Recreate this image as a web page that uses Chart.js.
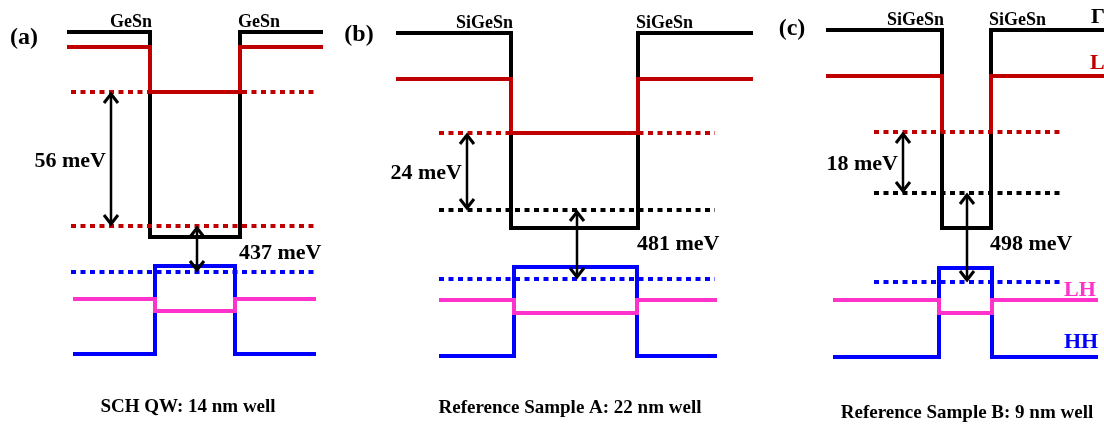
<!DOCTYPE html>
<html>
<head>
<meta charset="utf-8">
<script src="https://cdn.jsdelivr.net/npm/chart.js@4.4.1/dist/chart.umd.min.js"></script>
<style>
  html, body { margin: 0; padding: 0; background: #fff; }
  #wrap { width: 1104px; height: 426px; }
</style>
</head>
<body>
<div id="wrap"><canvas id="bands" width="1104" height="426"></canvas></div>
<script>
// three band diagrams, x = position across the structure, y = energy (arb. units)
const panelIds = ['(a)', '(b)', '(c)'];
const barrierNames = ['GeSn', 'SiGeSn', 'SiGeSn'];
const panelTitles = ['SCH QW: 14 nm well', 'Reference Sample A: 22 nm well', 'Reference Sample B: 9 nm well'];

// conduction band extents
const cbStart = [67, 396, 826];
const cbEnd = [323, 753, 1104];
const wellLeft = [150, 511, 942];
const wellRight = [240, 638, 991];
// valence band extents
const vbStart = [73, 439, 833];
const vbEnd = [316, 717, 1098];
const vbWellLeft = [155, 514, 939];
const vbWellRight = [235, 637, 992];
// confined level extents
const levelStart = [71, 439, 874];
const levelEnd = [318, 715, 1060];

// band edges
const gammaBarrier = [394, 393, 396];
const gammaWell = [189, 198, 198];
const lBarrier = [379, 347, 350];
const lWell = [334, 293, 294];
const lWellSolid = [true, true, false];
const hhBarrier = [72, 70, 69];
const hhWell = [160, 159, 158];
const lhBarrier = [127, 126, 126];
const lhWell = [115, 113, 113];

// confined levels
const upperLevel = [334, 293, 294];
const lowerLevel = [200, 216, 233];
const holeLevel = [154, 147, 144];

const splitLabels = ['56 meV', '24 meV', '18 meV'];
const gapLabels = ['437 meV', '481 meV', '498 meV'];
const bandLabels = ['Γ', 'L', 'LH', 'HH'];

// styling / text placement
const RED = '#c00000', BLUE = '#0000ff', PINK = '#ff33cc', BLACK = '#000000';
const lowerLevelColor = [RED, BLACK, BLACK];
const splitArrowX = [111, 467, 903];
const gapArrowX = [197, 577, 967];
const letterPos = [[24, 38], [359, 35], [792, 29]];
const titlePos = [[188, 407], [570, 408], [967, 413]];
const bandLabelPos = [[1091, 409, BLACK], [1090, 363, RED], [1064, 136, PINK], [1064, 84, BLUE]];
const FONT = '"Liberation Serif", "Times New Roman", serif';

function step(x0, x1, xa, xb, barrier, well, breakBottom) {
  const pts = [
    {x: x0, y: barrier}, {x: xa, y: barrier}, {x: xa, y: well}
  ];
  if (breakBottom) pts.push({x: (xa + xb) / 2, y: null});
  pts.push({x: xb, y: well}, {x: xb, y: barrier}, {x: x1, y: barrier});
  return pts;
}

const datasets = [];
function add(data, color, dashed) {
  datasets.push({
    data: data,
    showLine: true,
    borderColor: color,
    borderWidth: 4,
    borderDash: dashed ? [5, 4.5] : [],
    borderJoinStyle: 'miter',
    pointRadius: 0,
    fill: false,
    tension: 0,
    spanGaps: false,
    clip: false
  });
}

for (let i = 0; i < 3; i++) {
  add(step(cbStart[i], cbEnd[i], wellLeft[i], wellRight[i], gammaBarrier[i], gammaWell[i], false), BLACK, false);
  add(step(cbStart[i], cbEnd[i], wellLeft[i], wellRight[i], lBarrier[i], lWell[i], !lWellSolid[i]), RED, false);
  add(step(vbStart[i], vbEnd[i], vbWellLeft[i], vbWellRight[i], hhBarrier[i], hhWell[i], false), BLUE, false);
  add(step(vbStart[i], vbEnd[i], vbWellLeft[i], vbWellRight[i], lhBarrier[i], lhWell[i], false), PINK, false);
  add([{x: levelStart[i], y: upperLevel[i]}, {x: levelEnd[i], y: upperLevel[i]}], RED, true);
  add([{x: levelStart[i], y: lowerLevel[i]}, {x: levelEnd[i], y: lowerLevel[i]}], lowerLevelColor[i], true);
  add([{x: levelStart[i], y: holeLevel[i]}, {x: levelEnd[i], y: holeLevel[i]}], BLUE, true);
}
// later datasets on top
datasets.forEach((d, i) => { d.order = -i; });

function arrow(ctx, x, y1, y2) {
  const dir = y2 > y1 ? 1 : -1;
  ctx.lineWidth = 2.5;
  ctx.beginPath();
  ctx.moveTo(x, y1 + dir * 2);
  ctx.lineTo(x, y2 - dir * 2);
  ctx.stroke();
  ctx.lineWidth = 3;
  ctx.beginPath();
  ctx.moveTo(x - 7, y1 + dir * 9);
  ctx.lineTo(x, y1);
  ctx.lineTo(x + 7, y1 + dir * 9);
  ctx.moveTo(x - 7, y2 - dir * 9);
  ctx.lineTo(x, y2);
  ctx.lineTo(x + 7, y2 - dir * 9);
  ctx.stroke();
}

const annotate = {
  id: 'annotate',
  afterDatasetsDraw(chart) {
    const ctx = chart.ctx;
    const px = v => chart.scales.x.getPixelForValue(v);
    const py = v => chart.scales.y.getPixelForValue(v);
    ctx.save();
    ctx.strokeStyle = BLACK;
    ctx.fillStyle = BLACK;
    ctx.lineJoin = 'miter';
    ctx.textBaseline = 'middle';

    for (let i = 0; i < 3; i++) {
      arrow(ctx, px(splitArrowX[i]), py(upperLevel[i]) + 2, py(lowerLevel[i]) - 2);
      arrow(ctx, px(gapArrowX[i]), py(lowerLevel[i]) + 2, py(holeLevel[i]) - 2);

      ctx.font = 'bold 22px ' + FONT;
      ctx.textAlign = 'right';
      ctx.fillText(splitLabels[i], px(splitArrowX[i]) - 5, (py(upperLevel[i]) + py(lowerLevel[i])) / 2 + 2);
      ctx.textAlign = 'left';
      ctx.fillText(gapLabels[i], px(wellRight[i]) - 1, py(gammaWell[i]) + 16);

      ctx.font = 'bold 18px ' + FONT;
      ctx.textAlign = 'right';
      ctx.fillText(barrierNames[i], px(wellLeft[i]) + 2, py(gammaBarrier[i]) - 10);
      ctx.textAlign = 'left';
      ctx.fillText(barrierNames[i], px(wellRight[i]) - 2, py(gammaBarrier[i]) - 10);

      ctx.font = 'bold 24px ' + FONT;
      ctx.textAlign = 'center';
      ctx.fillText(panelIds[i], px(letterPos[i][0]), py(426 - letterPos[i][1]));

      ctx.font = 'bold 19px ' + FONT;
      ctx.fillText(panelTitles[i], px(titlePos[i][0]), py(426 - titlePos[i][1]));
    }

    ctx.font = 'bold 22px ' + FONT;
    ctx.textAlign = 'left';
    bandLabels.forEach((t, k) => {
      ctx.fillStyle = bandLabelPos[k][2];
      ctx.fillText(t, px(bandLabelPos[k][0]), py(bandLabelPos[k][1]));
    });
    ctx.restore();
  }
};

new Chart(document.getElementById('bands'), {
  type: 'scatter',
  data: { datasets: datasets },
  options: {
    responsive: false,
    animation: false,
    devicePixelRatio: 1,
    layout: { padding: 0 },
    plugins: { legend: { display: false }, tooltip: { enabled: false } },
    scales: {
      x: { type: 'linear', min: 0, max: 1104, display: false },
      y: { type: 'linear', min: 0, max: 426, display: false }
    }
  },
  plugins: [annotate]
});
</script>
</body>
</html>
